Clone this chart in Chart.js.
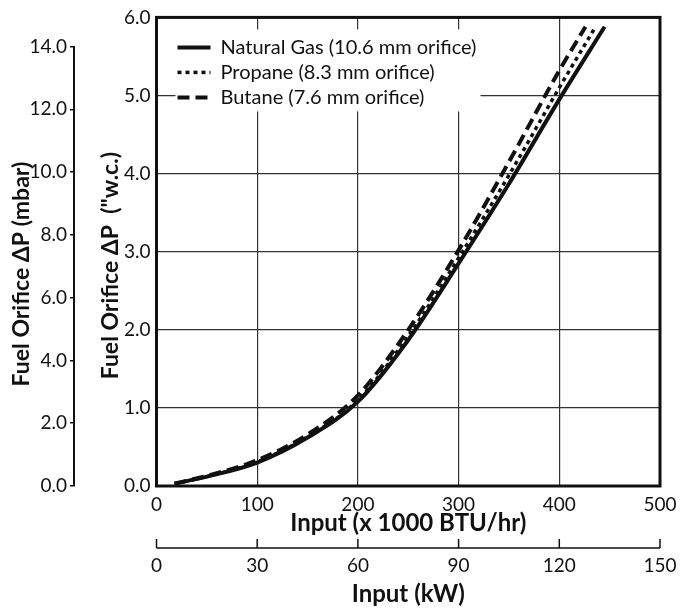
<!DOCTYPE html>
<html>
<head>
<meta charset="utf-8">
<script src="https://cdn.jsdelivr.net/npm/chart.js@4.4.1/dist/chart.umd.min.js"></script>
<style>
  body { margin: 0; background: #fff; }
  canvas { display: block; }
</style>
</head>
<body>
<canvas id="chart" width="680" height="609"></canvas>
<script>
// input in 1000 BTU/hr, dP in inches w.c.
const ngInput = [18, 50, 100, 150, 200, 250, 300, 350, 400, 445];
const ngDp = [0.03, 0.12, 0.30, 0.62, 1.08, 1.87, 2.85, 3.87, 4.95, 5.88];
const propaneInput = [18, 50, 100, 150, 200, 250, 300, 350, 400, 436];
const propaneDp = [0.03, 0.12, 0.31, 0.63, 1.10, 1.92, 2.92, 3.98, 5.10, 5.88];
const butaneInput = [18, 50, 100, 150, 200, 250, 300, 350, 400, 426];
const butaneDp = [0.03, 0.13, 0.33, 0.66, 1.16, 2.0, 3.02, 4.15, 5.32, 5.88];

const seriesLabels = [
  "Natural Gas (10.6 mm orifice)",
  "Propane (8.3 mm orifice)",
  "Butane (7.6 mm orifice)",
];

const MBAR_PER_INWC = 2.4884;
const FONT = "Lato, 'Open Sans', sans-serif";

function toPoints(xs, ys) {
  return xs.map((x, i) => ({ x: x, y: ys[i] }));
}

// keep horizontal axes from asking for extra side room
function fitBottom(height) {
  return (s) => {
    s.height = height;
    s.paddingLeft = 0;
    s.paddingRight = 0;
  };
}

// plot frame, short mbar axis line, kW axis line and legend
const framePlugin = {
  id: "frame",
  beforeDatasetsDraw(chart) {
    const ctx = chart.ctx;
    const a = chart.chartArea;
    // legend background hides grid lines
    ctx.save();
    ctx.fillStyle = "#fff";
    ctx.fillRect(a.left + 19, a.top + 12, 305, 82);
    ctx.restore();
  },
  afterDatasetsDraw(chart) {
    const ctx = chart.ctx;
    const a = chart.chartArea;
    ctx.save();
    ctx.strokeStyle = "#111";
    ctx.lineWidth = 3;
    ctx.strokeRect(a.left, a.top, a.right - a.left, a.bottom - a.top);

    // mbar axis line, 0 to 14 only
    const y2 = chart.scales.y2;
    ctx.lineWidth = 2;
    ctx.beginPath();
    ctx.moveTo(y2.right - 1, y2.getPixelForValue(0));
    ctx.lineTo(y2.right - 1, y2.getPixelForValue(14));
    ctx.stroke();

    // kW axis with upward ticks
    const x2 = chart.scales.x2;
    const ly = x2.top + 10;
    ctx.lineWidth = 1.5;
    ctx.beginPath();
    ctx.moveTo(x2.getPixelForValue(0), ly);
    ctx.lineTo(x2.getPixelForValue(150), ly);
    x2.ticks.forEach((t) => {
      const px = x2.getPixelForValue(t.value);
      ctx.moveTo(px, ly);
      ctx.lineTo(px, ly - 9);
    });
    ctx.stroke();

    // legend
    const lx = a.left + 21;
    let rowY = a.top + 30;
    ctx.font = "20px " + FONT;
    ctx.textBaseline = "middle";
    ctx.fillStyle = "#111";
    chart.data.datasets.forEach((ds) => {
      ctx.beginPath();
      ctx.lineWidth = ds.borderWidth;
      ctx.setLineDash(ds.borderDash || []);
      ctx.moveTo(lx, rowY);
      ctx.lineTo(lx + 33, rowY);
      ctx.stroke();
      ctx.setLineDash([]);
      ctx.fillText(ds.label, lx + 43, rowY);
      rowY += 25;
    });
    ctx.restore();
  },
};

new Chart(document.getElementById("chart"), {
  type: "line",
  data: {
    datasets: [
      {
        label: seriesLabels[0],
        data: toPoints(ngInput, ngDp),
        borderColor: "#111",
        borderWidth: 4,
      },
      {
        label: seriesLabels[1],
        data: toPoints(propaneInput, propaneDp),
        borderColor: "#111",
        borderWidth: 3.5,
        borderDash: [4, 4],
      },
      {
        label: seriesLabels[2],
        data: toPoints(butaneInput, butaneDp),
        borderColor: "#111",
        borderWidth: 4,
        borderDash: [12, 6],
      },
    ],
  },
  options: {
    responsive: false,
    animation: false,
    devicePixelRatio: 1,
    layout: { padding: { top: 16, right: 20, bottom: 0, left: 0 } },
    elements: {
      point: { radius: 0 },
      line: { cubicInterpolationMode: "monotone", fill: false },
    },
    plugins: {
      legend: { display: false },
      tooltip: { enabled: false },
    },
    scales: {
      x: {
        type: "linear",
        position: "bottom",
        weight: 0,
        min: 0,
        max: 500,
        afterFit: fitBottom(52),
        border: { display: false },
        grid: { color: "#333", lineWidth: 1.2, drawTicks: false },
        ticks: {
          stepSize: 100,
          padding: 7,
          color: "#111",
          font: { family: FONT, size: 19 },
          maxRotation: 0,
        },
        title: {
          display: true,
          text: "Input (x 1000 BTU/hr)",
          color: "#111",
          font: { family: FONT, size: 24, weight: "bold" },
          padding: { top: 0, bottom: 0 },
        },
      },
      x2: {
        type: "linear",
        position: "bottom",
        weight: 1,
        min: 0,
        max: 150,
        afterFit: fitBottom(71),
        border: { display: false },
        grid: { display: false, drawTicks: false },
        ticks: {
          stepSize: 30,
          padding: 16,
          color: "#111",
          font: { family: FONT, size: 19 },
          maxRotation: 0,
        },
        title: {
          display: true,
          text: "Input (kW)",
          color: "#111",
          font: { family: FONT, size: 24, weight: "bold" },
          padding: { top: 0, bottom: 0 },
        },
      },
      y: {
        type: "linear",
        position: "left",
        weight: 0,
        min: 0,
        max: 6,
        afterFit: (s) => { s.width = 81.5; },
        border: { display: false },
        grid: { color: "#333", lineWidth: 1.2, drawTicks: false },
        ticks: {
          stepSize: 1,
          padding: 6,
          color: "#111",
          font: { family: FONT, size: 19 },
          callback: (v) => v.toFixed(1),
        },
        title: {
          display: true,
          // trailing spaces push the text a little lower
          text: "Fuel Orifice \u0394P  (\"w.c.)     ",
          color: "#111",
          font: { family: FONT, size: 23, weight: "bold" },
          padding: { top: 22, bottom: 0 },
        },
      },
      y2: {
        type: "linear",
        position: "left",
        weight: 1,
        min: 0,
        max: 6 * MBAR_PER_INWC,
        afterFit: (s) => { s.width = 75; },
        border: { display: false },
        grid: {
          drawOnChartArea: false,
          drawTicks: true,
          tickLength: 5,
          color: "#111",
          lineWidth: 1.5,
        },
        ticks: {
          stepSize: 2,
          includeBounds: false,
          padding: 3,
          color: "#111",
          font: { family: FONT, size: 19 },
          callback: (v) => v.toFixed(1),
        },
        title: {
          display: true,
          text: "Fuel Orifice \u0394P (mbar)        ",
          color: "#111",
          font: { family: FONT, size: 23, weight: "bold" },
          padding: { top: 8, bottom: 0 },
        },
      },
    },
  },
  plugins: [framePlugin],
});
</script>
</body>
</html>
